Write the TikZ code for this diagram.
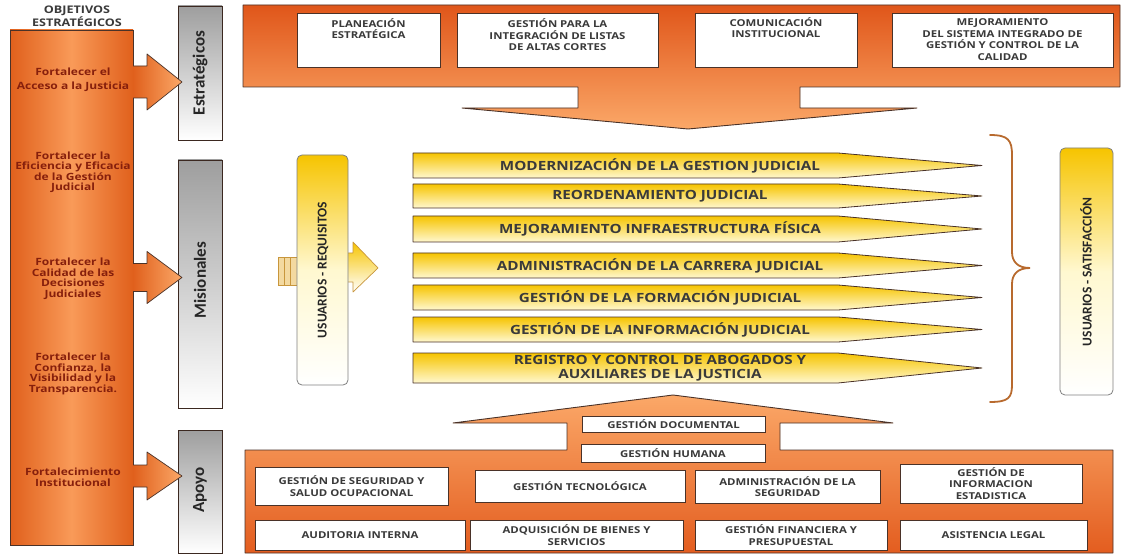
\documentclass[tikz,border=0pt]{standalone}
\usepackage{fontspec}
\newfontfamily\wf{Open Sans}[FakeStretch=1.2]
\newfontfamily\cf{Carlito}
\definecolor{orD}{HTML}{E0561A}
\definecolor{orM}{HTML}{F4843E}
\definecolor{orL}{HTML}{FBA868}
\definecolor{colEdge}{HTML}{E0601C}
\definecolor{colMid}{HTML}{F99A58}
\definecolor{bordC}{HTML}{4A3228}
\definecolor{txtC}{HTML}{3A3A3A}
\definecolor{colTxt}{HTML}{861F0C}
\definecolor{grayT}{HTML}{9E9E9E}
\definecolor{yelD}{HTML}{F6C400}
\definecolor{yelL}{HTML}{FFF8D0}
\definecolor{braceC}{HTML}{B86A2E}
\definecolor{tanF}{HTML}{F3D9A0}
\definecolor{tanB}{HTML}{C8963C}
\newcommand{\objArrow}[3]{%
  \shade[left color=colEdge, right color=orL] (133,{#1-#2}) -- (147,{#1-#2}) -- (147,{#1-#3}) -- (182,#1) -- (147,{#1+#3}) -- (147,{#1+#2}) -- (133,{#1+#2}) -- cycle;
  \draw[bordC, line width=0.7pt, line join=round] (133,{#1-#2}) -- (147,{#1-#2}) -- (147,{#1-#3}) -- (182,#1) -- (147,{#1+#3}) -- (147,{#1+#2}) -- (133,{#1+#2});}
\newcommand{\procRow}[4]{%
  \shade[yrow] (413,#2) -- (838,#2) -- (982,{(#2+#3)/2}) -- (838,#3) -- (413,#3) -- cycle;
  \node[arrtxt] (#1) at (660,{(#2+#3)/2}) {#4};}
\newcommand{\wBox}[6]{%
  \node[wbox, minimum width={#4-#2}, minimum height={#5-#3}] (#1) at ({(#2+#4)/2},{(#3+#5)/2}) {#6};}
\begin{document}
\begin{tikzpicture}[x=1pt,y=-1pt,
  wbox/.style={draw=bordC, fill=white, line width=0.9pt, inner sep=0pt, align=center, text=txtC, font=\wf\bfseries\fontsize{9.5}{11.5}\selectfont},
  btxt/.style={inner sep=0pt, align=center, text=txtC, font=\wf\bfseries\fontsize{9.5}{11.5}\selectfont},
  arrtxt/.style={inner sep=0pt, align=center, text=txtC, font=\wf\bfseries\fontsize{12.7}{17}\selectfont},
  coltxt/.style={inner sep=0pt, align=center, text=colTxt, font=\wf\bfseries\fontsize{10}{10.5}\selectfont},
  tabtxt/.style={inner sep=0pt, rotate=90, text=black!85, font=\cf\bfseries\fontsize{17}{20}\selectfont},
  usrtxt/.style={inner sep=0pt, rotate=90, text=black!85, font=\cf\bfseries\fontsize{13.5}{16}\selectfont},
  yrow/.style={top color=yelD, bottom color=yelL, draw=bordC, line width=0.8pt, line join=round},
  tabbox/.style={top color=grayT, bottom color=white, draw=bordC!80!black, line width=0.8pt},
  usrbox/.style={top color=yelD, bottom color=white, middle color=yelL, draw=gray, line width=0.8pt, rounded corners=5pt}
]
\useasboundingbox (0,0) rectangle (1125,556);
\fill[white] (0,0) rectangle (1125,556);

% ---------- left column ----------
\node[btxt, font=\wf\bfseries\fontsize{10.5}{10}\selectfont] (objtitle) at (77,16.5) {OBJETIVOS\\ESTRATÉGICOS};
\shade[left color=colEdge, right color=colEdge, middle color=colMid, draw=bordC, line width=0.9pt] (10,30) rectangle (133,545);
\node[coltxt] (o1) at (73,80) {Fortalecer el\\[4pt]Acceso a la Justicia};
\node[coltxt] (o2) at (73,172.5) {Fortalecer la\\Eficiencia y Eficacia\\de la Gestión\\Judicial};
\node[coltxt] (o3) at (73,279) {Fortalecer la\\Calidad de las\\Decisiones\\Judiciales};
\node[coltxt] (o4) at (73,374) {Fortalecer la\\Confianza, la\\Visibilidad y la\\Transparencia.};
\node[coltxt] (o5) at (73,477) {Fortalecimiento\\Institucional};

% ---------- gray tabs ----------
\shade[tabbox] (178,6) rectangle (222,140);
\node[tabtxt] (tabE) at (200,73) {Estratégicos};
\shade[tabbox] (178,160) rectangle (222,408);
\node[tabtxt] (tabM) at (200,280) {Misionales};
\shade[tabbox] (178,430) rectangle (222,553);
\node[tabtxt] (tabA) at (200,490) {Apoyo};

% ---------- objective arrows ----------
\objArrow{82}{16}{28}
\objArrow{277.5}{14}{26}
\objArrow{476}{11}{24}

% ---------- top (strategic) block ----------
\shade[top color=orD, bottom color=orL, draw=bordC, line width=0.9pt, line join=round]
  (243,5) -- (1120,5) -- (1120,87) -- (800,87) -- (800,108) -- (917,108) -- (688,129) -- (462,108) -- (578,108) -- (578,87) -- (243,87) -- cycle;
\wBox{s1}{297}{13}{440}{67}{}
\wBox{s2}{457}{13}{658}{67}{}
\wBox{s3}{695}{13}{857}{67}{}
\wBox{s4}{892}{13}{1113}{67}{}
\node[btxt] (s1t) at (368.5,28.5) {PLANEACIÓN\\ESTRATÉGICA};
\node[btxt] (s2t) at (557.5,35) {GESTIÓN PARA LA\\INTEGRACIÓN DE LISTAS\\DE ALTAS CORTES};
\node[btxt] (s3t) at (776,27.5) {COMUNICACIÓN\\INSTITUCIONAL};
\node[btxt] (s4t) at (1002.5,39.5) {MEJORAMIENTO\\DEL SISTEMA INTEGRADO DE\\GESTIÓN Y CONTROL DE LA\\CALIDAD};

% ---------- bottom (support) block ----------
\shade[top color=orL, bottom color=orD!85!orM, draw=bordC, line width=0.9pt, line join=round]
  (245,553) -- (1113,553) -- (1113,450) -- (780,450) -- (780,423) -- (893,423) -- (673,395) -- (453,423) -- (567,423) -- (567,450) -- (245,450) -- cycle;
\wBox{gdoc}{582}{416}{765}{432}{GESTIÓN DOCUMENTAL}
\wBox{ghum}{581}{444}{765}{462}{GESTIÓN HUMANA}
\wBox{a1}{255}{467}{448}{505}{GESTIÓN DE SEGURIDAD Y\\SALUD OCUPACIONAL}
\wBox{a2}{475}{470}{685}{502}{GESTIÓN TECNOLÓGICA}
\wBox{a3}{695}{470}{880}{503}{ADMINISTRACIÓN DE LA\\SEGURIDAD}
\wBox{a4}{900}{464}{1082}{503}{GESTIÓN DE\\INFORMACION\\ESTADISTICA}
\wBox{a5}{255}{520}{465}{550}{AUDITORIA INTERNA}
\wBox{a6}{470}{520}{683}{550}{ADQUISICIÓN DE BIENES Y\\SERVICIOS}
\wBox{a7}{695}{520}{887}{550}{GESTIÓN FINANCIERA Y\\PRESUPUESTAL}
\wBox{a8}{900}{520}{1087}{550}{ASISTENCIA LEGAL}

% ---------- missional processes ----------
\procRow{m1}{153}{178}{MODERNIZACIÓN DE LA GESTION JUDICIAL}
\procRow{m2}{184}{208}{REORDENAMIENTO JUDICIAL}
\procRow{m3}{216}{242}{MEJORAMIENTO INFRAESTRUCTURA FÍSICA}
\procRow{m4}{253}{278}{ADMINISTRACIÓN DE LA CARRERA JUDICIAL}
\procRow{m5}{285}{310}{GESTIÓN DE LA FORMACIÓN JUDICIAL}
\procRow{m6}{317}{342}{GESTIÓN DE LA INFORMACIÓN JUDICIAL}
\procRow{m7}{353}{383}{REGISTRO Y CONTROL DE ABOGADOS Y\\[-3pt]AUXILIARES DE LA JUSTICIA}

% ---------- users: requirements ----------
\foreach \xa/\xb in {278/284,284/290,290/297}
  \draw[fill=tanF, draw=tanB, line width=0.7pt] (\xa,257) rectangle (\xb,285);
\shade[top color=yelD, bottom color=white, draw=tanB, line width=0.7pt, line join=round]
  (346,253) -- (353,253) -- (353,242) -- (378,268) -- (353,292) -- (353,282) -- (346,282) -- cycle;
\shade[usrbox] (297,155) rectangle (348,385);
\node[usrtxt] (ureq) at (323,270) {USUARIOS - REQUISITOS};

% ---------- brace and users: satisfaction ----------
\draw[braceC, line width=1.8pt, line cap=round]
  (990,135) .. controls (1008,135) and (1012,140) .. (1012,155) -- (1012,252)
  .. controls (1012,262) and (1018,268) .. (1030,268)
  .. controls (1018,268) and (1012,274) .. (1012,284) -- (1012,385)
  .. controls (1012,398) and (1008,402) .. (990,402);
\shade[usrbox] (1060,148) rectangle (1113,395);
\node[usrtxt] (usat) at (1086,272) {USUARIOS - SATISFACCIÓN};
\end{tikzpicture}
\end{document}
